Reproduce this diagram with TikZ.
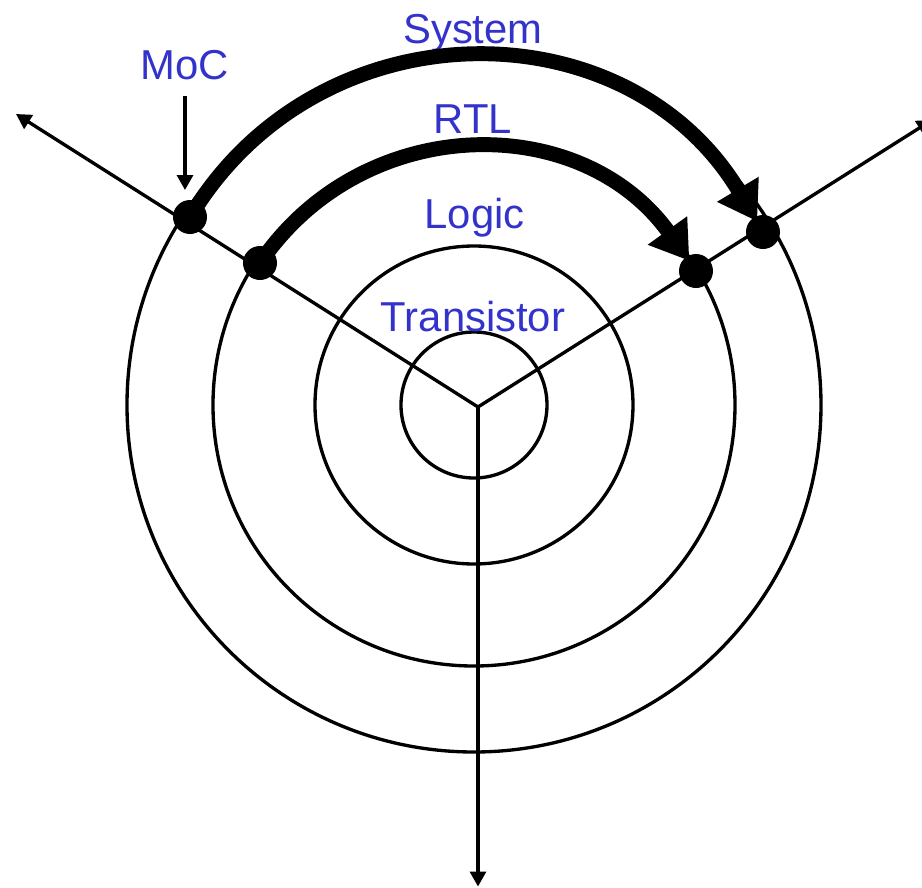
\documentclass[tikz,border=0pt]{standalone}
\usepackage{fontspec}
\setmainfont{Liberation Sans}
\usetikzlibrary{arrows.meta}

\begin{document}
\begin{tikzpicture}
      % 配色
      \definecolor{labelcolor}{RGB}{51,51,204}    % 蓝色文字

      % 定义样式
      \tikzstyle{ring} = [line width=1.9pt]
      \tikzstyle{axis} = [line width=1.9pt, -{Triangle[length=0.3cm, width=0.32cm]}]
      \tikzstyle{dot} = [circle, fill=black, inner sep=0pt, minimum size=0.68cm]
      \tikzstyle{level} = [font=\fontsize{23.8}{28}\selectfont, text=labelcolor, anchor=base, inner sep=9pt]
      \tikzstyle{flow} = [line width=8.5pt, shorten >=-3pt, -{Triangle[length=0.75cm, width=0.92cm]}]

      \useasboundingbox (-9.48,-9.64) rectangle (8.96,8.10);

      % 同心圆
      \coordinate (origin) at (0,0);
      \foreach \r in {1.46,3.18,5.22,6.94}
        \draw[ring] (origin) circle (\r);

      % 三条轴
      \coordinate (hub) at (0.08,-0.04);
      \coordinate (leftEnd) at (-9.16,5.82);
      \coordinate (rightEnd) at (9.16,5.70);
      \coordinate (downEnd) at (0.08,-9.63);
      \draw[axis] (hub) -- (leftEnd);
      \draw[axis] (hub) -- (rightEnd);
      \draw[axis] (hub) -- (downEnd);

      % 层次标签
      \node[level] (system) at (-0.02,7.24) {System};
      \node[level] (rtl) at (-0.02,5.44) {RTL};
      \node[level] (logic) at (0.01,3.54) {Logic};
      \node[level] (transistor) at (-0.02,1.48) {Transistor};
      \node[level] (moc) at (-5.78,6.52) {MoC};

      % 圆点
      \node[dot] (sysL) at (-5.68,3.76) {};
      \node[dot] (rtlL) at (-4.28,2.84) {};
      \node[dot] (rtlR) at (4.44,2.68) {};
      \node[dot] (sysR) at (5.78,3.46) {};

      % MoC 指示
      \coordinate (mocTip) at (-5.78,4.30);
      \draw[axis] (moc) -- (mocTip);

      % 层次跳转
      \draw[flow] (sysL.center) to[bend left=59, looseness=1.13] (sysR);
      \draw[flow] (rtlL.center) to[bend left=55, looseness=1.09] (rtlR);
    \end{tikzpicture}
\end{document}
